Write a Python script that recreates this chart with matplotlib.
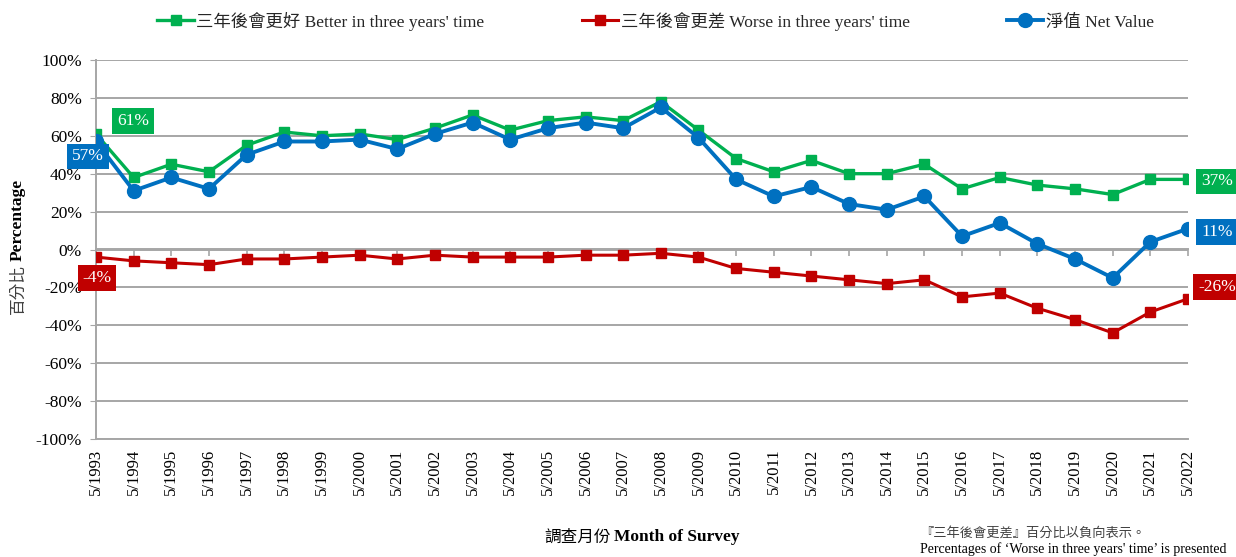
import matplotlib.pyplot as plt
import numpy as np

# survey months and the three series (%)
months = ["5/%d" % y for y in range(1993, 2023)]
better = [61, 38, 45, 41, 55, 62, 60, 61, 58, 64, 71, 63, 68, 70, 68, 78, 63, 48,
          41, 47, 40, 40, 45, 32, 38, 34, 32, 29, 37, 37]
worse = [-4, -6, -7, -8, -5, -5, -4, -3, -5, -3, -4, -4, -4, -3, -3, -2, -4, -10,
         -12, -14, -16, -18, -16, -25, -23, -31, -37, -44, -33, -26]
net = [57, 31, 38, 32, 50, 57, 57, 58, 53, 61, 67, 58, 64, 67, 64, 75, 59, 37,
       28, 33, 24, 21, 28, 7, 14, 3, -5, -15, 4, 11]

GREEN = "#00B050"
RED = "#C00000"
BLUE = "#0070C0"
GRID = "#A6A6A6"
FONTS = ["Liberation Serif", "Noto Sans CJK TC"]

plt.rcParams["font.family"] = FONTS

fig = plt.figure(figsize=(12.36, 5.57), dpi=100)
ax = fig.add_axes([96 / 1236, 1 - 439 / 557, (1188 - 96) / 1236, (439 - 60) / 557])

x = np.arange(len(months))
ax.plot(x, better, color=GREEN, lw=2.4, marker="s", ms=7,
        label="三年後會更好 Better in three years' time", zorder=3)
ax.plot(x, worse, color=RED, lw=2.2, marker="s", ms=7,
        label="三年後會更差 Worse in three years' time", zorder=3)
ax.plot(x, net, color=BLUE, lw=2.8, marker="o", ms=10,
        label="淨值 Net Value", zorder=4)

ax.set_xlim(0, len(months) - 1)
ax.set_ylim(-100, 100)
ax.set_yticks(range(-100, 101, 20))
ax.set_yticklabels(["%d%%" % v for v in range(-100, 101, 20)], fontsize=12.5)
ax.yaxis.grid(True, color=GRID, lw=1.4)
ax.set_axisbelow(True)
ax.tick_params(axis="y", length=4, color=GRID, pad=6)

ax.set_xticks(x)
ax.set_xticklabels(months, rotation=90, fontsize=12)
ax.tick_params(axis="x", length=0, pad=7)

for s in ["top", "right"]:
    ax.spines[s].set_visible(False)
ax.spines["left"].set_color(GRID)
ax.spines["left"].set_linewidth(1.4)
ax.spines["bottom"].set_color(GRID)
ax.spines["bottom"].set_linewidth(1.4)

# category axis crossing at 0%
sec = ax.secondary_xaxis(0.5)
sec.set_xticks(x)
sec.set_xticklabels([])
sec.tick_params(length=5, color=GRID, width=1.2, direction="in")
for s in sec.spines.values():
    s.set_color(GRID)
    s.set_linewidth(1.4)

# data labels
def tag(i, vals, color, dx, dy):
    ax.annotate("%d%%" % vals[i], (x[i], vals[i]), xytext=(dx, dy),
                textcoords="offset pixels", ha="center", va="center",
                color="white", fontsize=12.5, zorder=6,
                bbox=dict(boxstyle="square,pad=0.28", fc=color, ec="none"))

tag(0, better, GREEN, 37, 13)
tag(0, net, BLUE, -8, -15)
tag(0, worse, RED, 1, -21)
tag(-1, better, GREEN, 29, -2)
tag(-1, net, BLUE, 29, -3)
tag(-1, worse, RED, 29, 12)

leg = fig.legend(loc="center", bbox_to_anchor=(0.5305, 1 - 21 / 557), ncol=3,
                 frameon=False, fontsize=12.5, columnspacing=5.6,
                 handlelength=2.1, handletextpad=0.15)
for t in leg.get_texts():
    t.set_color("#262626")

# axis titles (Chinese normal, English bold)
fig.text(18 / 1236, 1 - 264 / 557, "百分比", rotation=90, ha="center",
         va="top", fontsize=12, color="#404040", family=["Noto Sans CJK TC"])
fig.text(18 / 1236, 1 - 261 / 557, "Percentage", rotation=90, ha="center",
         va="bottom", fontsize=12.5, fontweight="bold")
fig.text(611 / 1236, 1 - 537 / 557, "調查月份", ha="right", va="center",
         fontsize=12, family=["Noto Sans CJK TC"])
fig.text(614 / 1236, 1 - 537 / 557, "Month of Survey", ha="left", va="center",
         fontsize=12.5, fontweight="bold")

fig.text(920 / 1236, 1 - 533 / 557, "『三年後會更差』百分比以負向表示。", ha="left",
         va="center", fontsize=9.5, color="#404040", family=["Noto Sans CJK TC"])
fig.text(920 / 1236, 1 - 549 / 557,
         "Percentages of \u2018Worse in three years' time\u2019 is presented",
         ha="left", va="center", fontsize=10)

fig.savefig("out.png", dpi=100)
